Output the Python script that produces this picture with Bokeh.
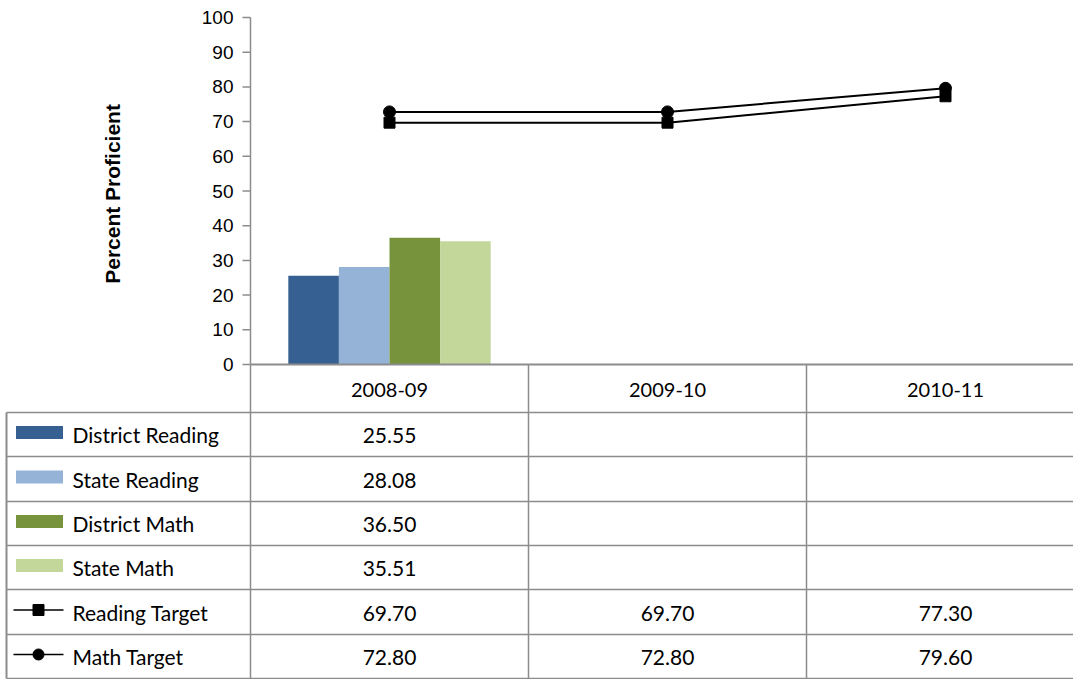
from bokeh.core.properties import value
from bokeh.embed import file_html
from bokeh.models import Range1d
from bokeh.plotting import figure
from bokeh.resources import INLINE

years = ["2008-09", "2009-10", "2010-11"]
bar_names = ["District Reading", "State Reading", "District Math", "State Math"]
bar_colors = ["#376092", "#95b3d7", "#77933c", "#c4d79b"]
bar_values = [25.55, 28.08, 36.50, 35.51]  # only 2008-09 has data
reading_target = [69.70, 69.70, 77.30]
math_target = [72.80, 72.80, 79.60]
y_ticks = list(range(0, 101, 10))

W, H = 1073, 679
CAT = 278          # px per category
X0, Y0 = 250, 364  # pixel of plot origin
YS = 3.47          # px per percent
GRAY = "#8c8c8c"

p = figure(width=W, height=H, output_backend="svg", toolbar_location=None,
           x_range=Range1d(-X0 / CAT, (W - X0) / CAT),
           y_range=Range1d((Y0 - H) / YS, Y0 / YS), min_border=0)
p.extra_x_ranges = {"px": Range1d(0, W)}
p.extra_y_ranges = {"px": Range1d(H, 0)}
p.outline_line_color = None
p.grid.visible = False
p.axis.visible = False
PX = dict(x_range_name="px", y_range_name="px")

# y axis drawn in data coordinates
p.segment(x0=[0], y0=[0], x1=[0], y1=[100], line_color=GRAY, line_width=1.5)
p.segment(x0=[-8 / CAT] * len(y_ticks), y0=y_ticks, x1=[0] * len(y_ticks), y1=y_ticks,
          line_color=GRAY, line_width=1.5)
p.text(x=[-17 / CAT] * len(y_ticks), y=y_ticks, text=[str(v) for v in y_ticks],
       text_font=value("Liberation Sans"), text_font_size="19px",
       text_align="right", text_baseline="middle")
p.text(x=[-138 / CAT], y=[50], text=["Percent  Proficient"], angle=1.5708,
       text_font=value("Liberation Sans"), text_font_size="21px", text_font_style="bold",
       text_align="center", text_baseline="middle")

bw = 0.182
for k, (v, c) in enumerate(zip(bar_values, bar_colors)):
    p.vbar(x=[0.5 + (k - 1.5) * bw], top=[v], bottom=0, width=bw,
           fill_color=c, line_color=None)

xs = [i + 0.5 for i in range(len(years))]
p.line(xs, reading_target, line_color="black", line_width=2)
p.scatter(xs, reading_target, marker="square", size=11, color="black")
p.line(xs, math_target, line_color="black", line_width=2)
p.scatter(xs, math_target, marker="circle", size=12, color="black")

# ---- data table (pixel units) ----
rows = [364, 412, 456, 501, 545, 589, 634, 678]
cols = [X0 + i * CAT for i in range(len(years) + 1)]
p.segment(x0=[X0], y0=[364], x1=[W], y1=[364], line_color=GRAY, line_width=2, **PX)
p.segment(x0=[6] * (len(rows) - 1), y0=rows[1:], x1=[W] * (len(rows) - 1), y1=rows[1:],
          line_color=GRAY, line_width=1.5, **PX)
p.segment(x0=cols, y0=[364] * len(cols), x1=cols, y1=[678] * len(cols),
          line_color=GRAY, line_width=1.5, **PX)
p.segment(x0=[6], y0=[412], x1=[6], y1=[678], line_color=GRAY, line_width=2, **PX)

font = value("Lato")
centers = [X0 + (i + 0.5) * CAT for i in range(len(years))]
p.text(x=centers, y=[389] * 3, text=years, text_font=font,
       text_font_size="20px", text_align="center", text_baseline="middle", **PX)

names = bar_names + ["Reading Target", "Math Target"]
series = [[v, None, None] for v in bar_values] + [reading_target, math_target]
for r, (name, vals) in enumerate(zip(names, series)):
    yc = (rows[r + 1] + rows[r + 2]) / 2
    if r < 4:
        p.rect(x=[39], y=[yc - 2], width=47, height=13, fill_color=bar_colors[r],
               line_color=None, **PX)
    else:
        p.segment(x0=[13], y0=[yc - 2], x1=[63], y1=[yc - 2], line_color="black",
                  line_width=1.5, **PX)
        p.scatter(x=[38], y=[yc - 2], marker="square" if r == 4 else "circle",
                  size=11, color="black", **PX)
    p.text(x=[72], y=[yc], text=[name], text_font=font, text_font_size="21px",
           text_baseline="middle", **PX)
    lx = [c for c, v in zip(centers, vals) if v is not None]
    lt = ["%.2f" % v for v in vals if v is not None]
    p.text(x=lx, y=[yc + 1] * len(lx), text=lt, text_font=font, text_font_size="21px",
           text_align="center", text_baseline="middle", **PX)

open("out.html", "w").write(file_html(p, INLINE))
